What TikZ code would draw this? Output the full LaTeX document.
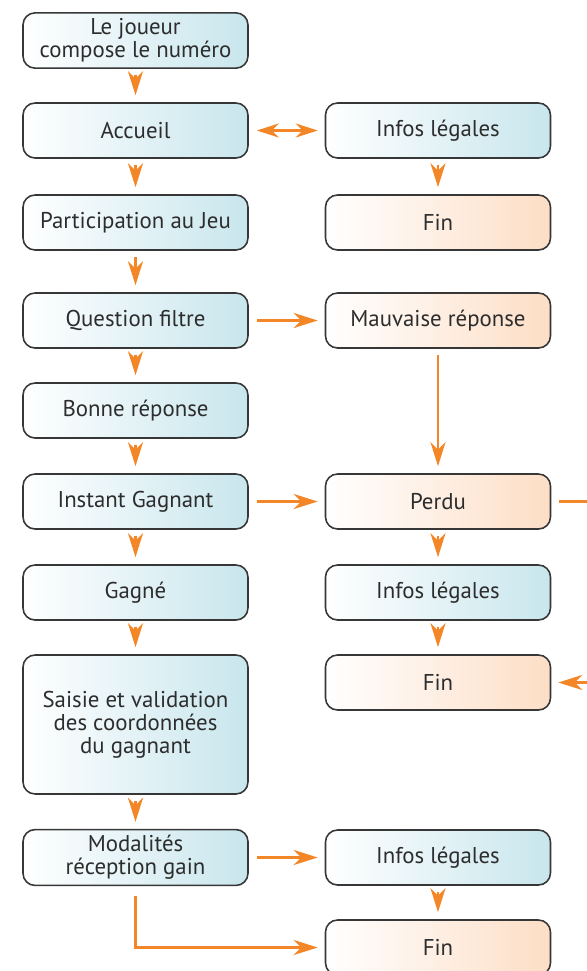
\documentclass[tikz,border=0pt]{standalone}
\usepackage{fontspec}
\setmainfont{PT Sans}
\usetikzlibrary{arrows.meta}
\definecolor{bleu}{RGB}{200,230,237}
\definecolor{peche}{RGB}{253,222,198}
\definecolor{orangef}{RGB}{243,134,38}
\definecolor{bordure}{RGB}{55,55,55}
\definecolor{texte}{RGB}{45,45,45}
\tikzstyle{etape} = [rectangle, rounded corners=0.24cm, draw=bordure, line width=0.9pt, minimum width=4.5cm, minimum height=1.1cm, align=center, text=texte, font=\fontsize{13}{13}\selectfont, left color=white, right color=bleu]
\tikzstyle{sortie} = [etape, left color=white, right color=peche]
\tikzstyle{fleche} = [-{Stealth[length=0.48cm, width=0.3cm, inset=0.15cm]}, draw=orangef, line width=1.7pt, shorten <=0.12cm, shorten >=0.14cm]
\tikzstyle{horiz} = [fleche, shorten <=0.16cm, shorten >=0.14cm]
\tikzstyle{double} = [horiz, {Stealth[length=0.44cm, width=0.28cm, inset=0.14cm]}-{Stealth[length=0.44cm, width=0.28cm, inset=0.14cm]}]

\begin{document}
\begin{tikzpicture}[x=0.02cm, y=-0.02cm]
  \useasboundingbox (0,0) rectangle (587,971);
  \clip (0,0) rectangle (587,971);

  % colonne de gauche
  \node[etape] (joueur) at (135.5,40.5) {Le joueur\\compose le numéro};
  \node[etape] (accueil) at (135.5,130.5) {Accueil};
  \node[etape] (participation) at (135.5,222.5) {Participation au Jeu};
  \node[etape] (question) at (135.5,320.5) {Question filtre};
  \node[etape] (bonne) at (135.5,410.5) {Bonne réponse};
  \node[etape] (instant) at (135.5,501.5) {Instant Gagnant};
  \node[etape] (gagne) at (135.5,592.5) {Gagné};
  \node[etape, minimum height=2.78cm] (saisie) at (135.5,724.5) {Saisie et validation\\des coordonnées\\du gagnant};
  \node[etape] (modalites) at (135.5,857.5) {Modalités\\réception gain};

  % colonne de droite
  \node[etape] (infos1) at (438,130.5) {Infos légales};
  \node[sortie] (fin1) at (438,222.5) {Fin};
  \node[sortie] (mauvaise) at (438,320.5) {Mauvaise réponse};
  \node[sortie] (perdu) at (438,501.5) {Perdu};
  \node[etape] (infos2) at (438,592.5) {Infos légales};
  \node[sortie] (fin2) at (438,682.5) {Fin};
  \node[etape] (infos3) at (438,857.5) {Infos légales};
  \node[sortie] (fin3) at (438,947.5) {Fin};

  \coordinate (coin) at (620,600);

  % enchaînement principal
  \draw[fleche] (joueur) -- (accueil);
  \draw[fleche] (accueil) -- (participation);
  \draw[fleche] (participation) -- (question);
  \draw[fleche] (question) -- (bonne);
  \draw[fleche] (bonne) -- (instant);
  \draw[fleche] (instant) -- (gagne);
  \draw[fleche] (gagne) -- (saisie);
  \draw[fleche] (saisie) -- (modalites);

  % branches
  \draw[double] (accueil) -- (infos1);
  \draw[fleche] (infos1) -- (fin1);
  \draw[horiz] (question) -- (mauvaise);
  \draw[fleche] (mauvaise) -- (perdu);
  \draw[horiz] (instant) -- (perdu);
  \draw[fleche] (perdu) -- (infos2);
  \draw[fleche] (infos2) -- (fin2);
  \draw[horiz] (perdu.east) -| (coin) |- (fin2.east);
  \draw[horiz] (modalites) -- (infos3);
  \draw[fleche] (infos3) -- (fin3);
  \draw[horiz, shorten <=0.2cm] (modalites.south) |- (fin3.west);
\end{tikzpicture}
\end{document}
